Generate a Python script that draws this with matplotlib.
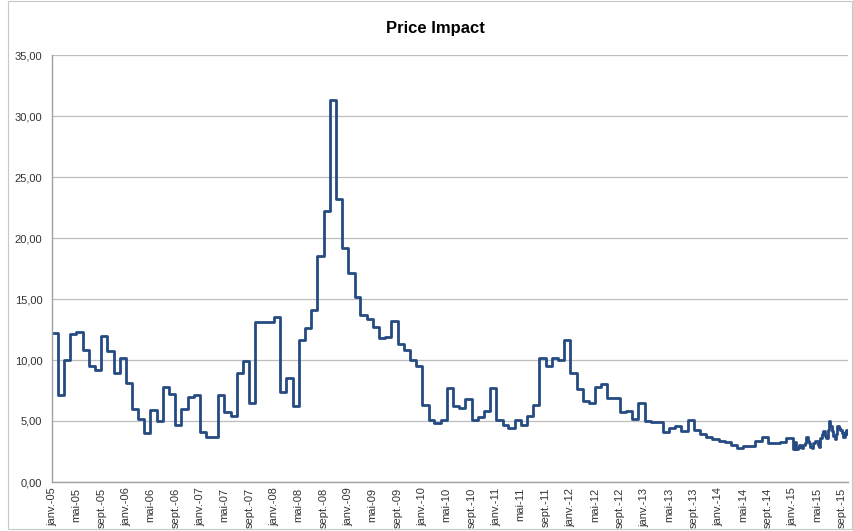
import pandas as pd
import matplotlib
matplotlib.use('Agg')
import matplotlib.pyplot as plt
import matplotlib.dates as mdates
from matplotlib.patches import Rectangle

plt.rcParams['font.family'] = ['Liberation Sans', 'DejaVu Sans']

# Monthly price impact, Jan 2005 - Dec 2014
impact_2005 = [12.2, 7.1, 10.0, 12.1, 12.3, 10.8, 9.5, 9.2, 12.0, 10.7, 8.9, 10.2]
impact_2006 = [8.1, 6.0, 5.2, 4.0, 5.9, 5.0, 7.8, 7.2, 4.7, 6.0, 7.0, 7.1]
impact_2007 = [4.1, 3.7, 3.7, 7.1, 5.7, 5.4, 8.9, 9.9, 6.5, 13.1, 13.1, 13.1]
impact_2008 = [13.5, 7.4, 8.5, 6.2, 11.6, 12.6, 14.1, 18.5, 22.2, 31.3, 23.2, 19.2]
impact_2009 = [17.1, 15.2, 13.7, 13.4, 12.7, 11.8, 11.9, 13.2, 11.3, 10.8, 10.0, 9.5]
impact_2010 = [6.3, 5.1, 4.8, 5.1, 7.7, 6.2, 6.1, 6.8, 5.1, 5.3, 5.8, 7.7]
impact_2011 = [5.1, 4.7, 4.4, 5.1, 4.7, 5.4, 6.3, 10.2, 9.5, 10.2, 10.0, 11.6]
impact_2012 = [8.9, 7.6, 6.6, 6.5, 7.8, 8.0, 6.9, 6.9, 5.7, 5.8, 5.2, 6.5]
impact_2013 = [5.0, 4.9, 4.9, 4.1, 4.4, 4.6, 4.2, 5.1, 4.3, 3.9, 3.7, 3.55]
impact_2014 = [3.35, 3.3, 3.0, 2.8, 2.95, 2.95, 3.4, 3.65, 3.2, 3.2, 3.25, 3.6]

# Weekly values from Jan 2015
impact_2015_weekly = [2.7, 3.3, 2.7, 2.8, 3.0, 2.9, 2.8, 3.0, 3.2, 3.7,
                      3.4, 3.2, 2.9, 2.8, 3.2, 3.4, 3.4, 3.0, 2.9, 3.6,
                      3.9, 4.2, 3.8, 3.6, 4.3, 5.0, 4.6, 4.2, 3.8, 3.5,
                      3.9, 4.6, 4.4, 4.3, 4.0, 3.7, 4.1, 4.3, 3.9]

tick_months = ['janv.', 'mai', 'sept.']
tick_years = list(range(5, 16))

monthly = (impact_2005 + impact_2006 + impact_2007 + impact_2008 + impact_2009
           + impact_2010 + impact_2011 + impact_2012 + impact_2013 + impact_2014)
dates_m = pd.date_range('2005-01-01', periods=len(monthly), freq='MS')
dates_w = pd.date_range('2015-01-05', periods=len(impact_2015_weekly), freq='7D')
dates = list(dates_m) + list(dates_w)
values = monthly + impact_2015_weekly

fig = plt.figure(figsize=(8.54, 5.31), dpi=100)
ax = fig.add_axes([52 / 854, 1 - 482 / 531, 796 / 854, 427 / 531])

ax.plot(dates, values, drawstyle='steps-post', color='#254B82', linewidth=2.0)

ax.set_ylim(0, 35)
ax.set_yticks(range(0, 36, 5))
ax.set_yticklabels([f"{v:.2f}".replace('.', ',') for v in range(0, 36, 5)])
ax.grid(axis='y', color='#BDBDBD', linewidth=0.9)
ax.set_axisbelow(True)

ax.set_xlim(pd.Timestamp('2005-01-01'), pd.Timestamp('2015-10-01'))
tick_dates = pd.date_range('2005-01-01', '2015-09-01', freq='4MS')
labels = [f"{m}-{y:02d}" for y in tick_years for m in tick_months]
ax.set_xticks(tick_dates)
ax.set_xticklabels(labels[:len(tick_dates)], rotation=90)

for side in ['top', 'right']:
    ax.spines[side].set_visible(False)
for side in ['left', 'bottom']:
    ax.spines[side].set_color('#A0A0A0')
    ax.spines[side].set_linewidth(1.0)
ax.tick_params(axis='both', labelsize=8, colors='#333333', length=0, pad=4)
ax.tick_params(axis='y', pad=7)

fig.text(435 / 854, 1 - 29 / 531, 'Price Impact', ha='center', va='center',
         fontsize=12, fontweight='bold', color='black')

fig.patches.append(Rectangle((8 / 854, 2 / 531), 844 / 854, 528 / 531,
                             transform=fig.transFigure, fill=False,
                             edgecolor='#C8C8C8', linewidth=0.8))

fig.savefig('out.png', dpi=100)
